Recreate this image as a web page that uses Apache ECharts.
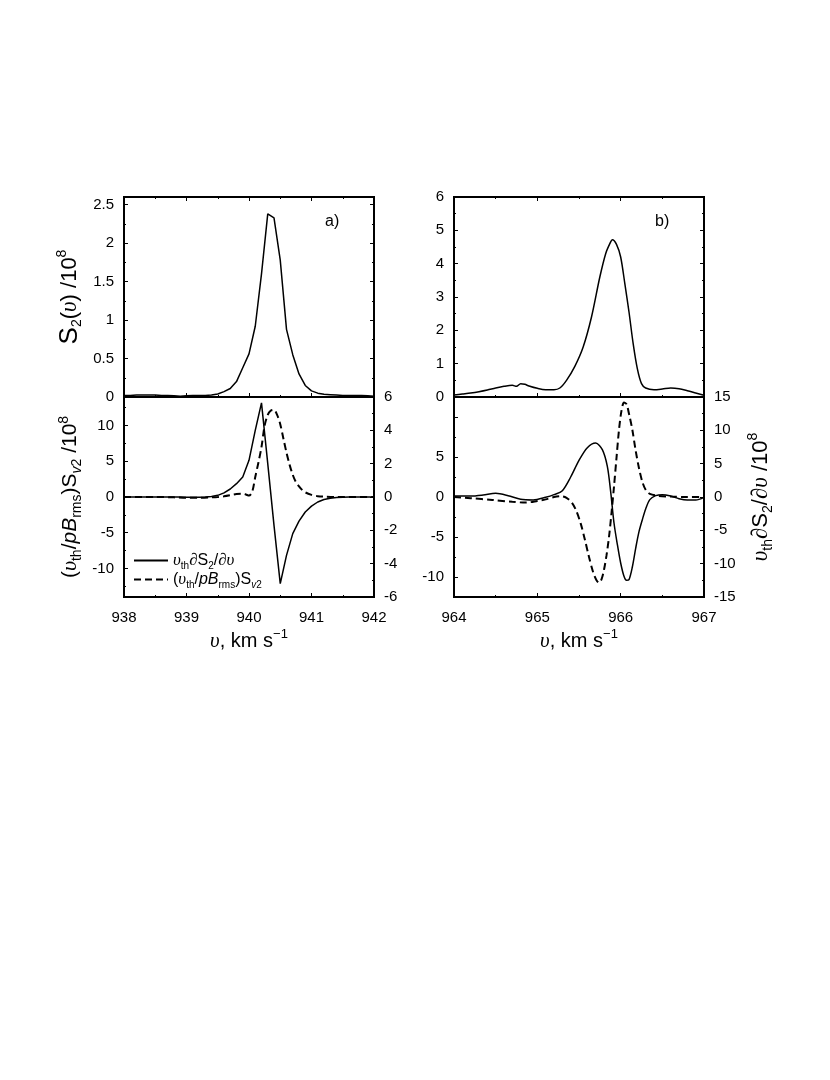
<!DOCTYPE html>
<html><head><meta charset="utf-8">
<script src="https://cdn.jsdelivr.net/npm/echarts@6/dist/echarts.min.js"></script>
<style>html,body{margin:0;padding:0;background:#fff}#c{width:830px;height:1080px}</style>
</head><body><div id="c"></div>
<script>
// ---------- data: panel a ----------
const vA = [938.0,938.1,938.2,938.3,938.4,938.5,938.6,938.7,938.8,938.9,939.0,939.1,939.2,939.3,939.4,939.5,939.6,939.7,939.8,939.9,940.0,940.1,940.2,940.3,940.4,940.5,940.6,940.7,940.8,940.9,941.0,941.1,941.2,941.3,941.4,941.5,941.6,941.7,941.8,941.9,942.0];
const s2A = [0.02,0.02,0.025,0.025,0.025,0.025,0.02,0.02,0.015,0.01,0.015,0.02,0.02,0.02,0.025,0.04,0.07,0.11,0.2,0.38,0.56,0.92,1.6,2.38,2.33,1.78,0.88,0.55,0.3,0.15,0.08,0.05,0.035,0.03,0.025,0.02,0.02,0.02,0.02,0.015,0.01];
const dSA = [0,0,0,0,0,0,0,0,0,0,-0.02,-0.02,-0.02,0,0.03,0.1,0.25,0.48,0.8,1.2,2.2,4.0,5.65,2.0,-1.7,-5.2,-3.5,-2.2,-1.45,-0.9,-0.55,-0.3,-0.15,-0.07,-0.03,-0.01,0,0,0,0,0];
const vAd = [938.0,938.5,938.8,939.0,939.2,939.4,939.5,939.6,939.7,939.8,939.9,939.95,940.0,940.05,940.1,940.15,940.2,940.25,940.3,940.35,940.4,940.45,940.5,940.55,940.6,940.65,940.7,940.75,940.8,940.85,940.9,941.0,941.1,941.2,941.4,942.0];
const svA = [0,0,-0.05,-0.1,-0.1,-0.05,0,0.1,0.25,0.42,0.45,0.35,0.2,0.7,2.8,4.8,7.0,10.0,11.5,12.1,12.2,11.5,10.2,8.2,6.2,4.5,3.1,2.1,1.5,1.0,0.65,0.3,0.12,0.05,0,0];
// ---------- data: panel b ----------
const vB = [964.0,964.1,964.2,964.3,964.4,964.5,964.6,964.7,964.75,964.8,964.85,964.9,965.0,965.1,965.2,965.27,965.35,965.45,965.55,965.65,965.75,965.82,965.87,965.9,965.95,966.0,966.05,966.1,966.15,966.2,966.25,966.3,966.4,966.5,966.6,966.7,966.8,966.9,967.0];
const s2B = [0.06,0.09,0.12,0.16,0.21,0.27,0.32,0.35,0.32,0.4,0.38,0.33,0.26,0.22,0.22,0.27,0.5,0.92,1.5,2.4,3.6,4.3,4.6,4.72,4.58,4.2,3.4,2.55,1.6,0.85,0.4,0.27,0.22,0.24,0.27,0.25,0.19,0.12,0.05];
const vBs = [964.0,964.2,964.35,964.5,964.65,964.8,964.95,965.1,965.2,965.3,965.4,965.5,965.6,965.7,965.78,965.84,965.88,965.92,965.96,966.0,966.04,966.07,966.1,966.14,966.18,966.22,966.26,966.3,966.35,966.42,966.5,966.6,966.7,966.8,966.9,967.0];
const dSB = [0.15,0.15,0.3,0.55,0.2,-0.35,-0.45,-0.05,0.35,0.95,3.0,5.5,7.4,8.1,7.1,4.6,0.8,-3.9,-7.1,-9.9,-11.9,-12.5,-12.4,-10.5,-7.7,-5.2,-3.4,-1.8,-0.4,0.2,0.35,0.15,-0.25,-0.45,-0.45,-0.05];
const vBd = [964.0,964.2,964.46,964.7,964.86,965.0,965.1,965.2,965.28,965.35,965.42,965.47,965.52,965.57,965.62,965.67,965.71,965.74,965.77,965.8,965.83,965.86,965.89,965.92,965.95,965.98,966.01,966.04,966.07,966.1,966.14,966.18,966.22,966.26,966.3,966.35,966.45,966.6,966.8,967.0];
const svB = [0.0,-0.15,-0.37,-0.6,-0.7,-0.5,-0.3,0.0,0.1,-0.1,-0.8,-1.8,-3.3,-5.3,-7.5,-9.4,-10.4,-10.7,-10.3,-9.1,-7.3,-5.0,-2.0,1.3,4.9,8.4,10.8,11.8,11.6,10.4,8.4,5.8,3.6,1.9,0.9,0.4,0.15,0.05,0.0,0.0];
// ---------- ticks ----------
const xTicksA = [938,939,940,941,942], xMinorA = [938.5,939.5,940.5,941.5];
const xTicksB = [964,965,966,967], xMinorB = [964.5,965.5,966.5];
const yTicksUA = [0,0.5,1,1.5,2,2.5], yMinorUA = [0.25,0.75,1.25,1.75,2.25];
const yTicksLAl = [-10,-5,0,5,10], yMinorLAl = [-12.5,-7.5,-2.5,2.5,7.5,12.5];
const yTicksLAr = [-6,-4,-2,0,2,4,6], yMinorLAr = [-5,-3,-1,1,3,5];
const yTicksUB = [0,1,2,3,4,5,6], yMinorUB = [0.5,1.5,2.5,3.5,4.5,5.5];
const yTicksLBl = [-10,-5,0,5,10], yLabelsLBl = [-10,-5,0,5], yMinorLBl = [-7.5,-2.5,2.5,7.5];
const yTicksLBr = [-15,-10,-5,0,5,10,15], yMinorLBr = [-12.5,-7.5,-2.5,2.5,7.5,12.5];

const SANS = 'Liberation Sans', SERIF = 'Liberation Serif';
function rich(size) {
  const lh = Math.round(size * 1.3), ss = Math.round(size * 0.65);
  return {
    n: {fontFamily: SANS, fontSize: size, lineHeight: lh, color: '#000'},
    i: {fontFamily: SANS, fontStyle: 'italic', fontSize: size, lineHeight: lh, color: '#000'},
    u: {fontFamily: SERIF, fontStyle: 'italic', fontSize: Math.round(size * 1.05), lineHeight: lh, color: '#000'},
    sub: {fontFamily: SANS, fontSize: ss, lineHeight: ss, verticalAlign: 'bottom', color: '#000'},
    subi: {fontFamily: SANS, fontStyle: 'italic', fontSize: ss, lineHeight: ss, verticalAlign: 'bottom', color: '#000'},
    sup: {fontFamily: SANS, fontSize: ss, lineHeight: ss, verticalAlign: 'top', color: '#000'}
  };
}
const tickFont = {fontFamily: SANS, fontSize: 15, color: '#000'};

const xAxes = [], yAxes = [];
function mainAxis(grid, pos, min, max, ticks, labels, extra, margin) {
  return Object.assign({
    type: 'value', gridIndex: grid, position: pos, min: min, max: max,
    axisLine: {show: false, onZero: false}, splitLine: {show: false},
    axisTick: {show: true, inside: true, length: 4, customValues: ticks, lineStyle: {color: '#000', width: 1}},
    axisLabel: labels ? Object.assign({show: true, customValues: labels, margin: margin || 10}, tickFont) : {show: false}
  }, extra || {});
}
function minorAxis(grid, pos, min, max, ticks) {
  return {type: 'value', gridIndex: grid, position: pos, min: min, max: max,
    axisLine: {show: false, onZero: false}, splitLine: {show: false}, axisLabel: {show: false},
    axisTick: {show: true, inside: true, length: 2, customValues: ticks, lineStyle: {color: '#000', width: 1}}};
}
function add(list, a) { list.push(a); return list.length - 1; }

const xName = {name: '{u|υ}{n|, km s}{sup|−1}', nameLocation: 'middle', nameGap: 31, nameTextStyle: {rich: rich(20)}};

// grid 0: upper a
const xU_A = add(xAxes, mainAxis(0, 'bottom', 938, 942, xTicksA, null));
add(xAxes, minorAxis(0, 'bottom', 938, 942, xMinorA));
add(xAxes, mainAxis(0, 'top', 938, 942, xTicksA, null));
add(xAxes, minorAxis(0, 'top', 938, 942, xMinorA));
const yU_A = add(yAxes, mainAxis(0, 'left', 0, 2.6, yTicksUA, yTicksUA, {
  name: '{S|S}{sub|2}{n|(}{u|υ}{n|) /10}{sup|8}', nameLocation: 'middle', nameRotate: 90, nameGap: 40,
  nameTextStyle: {rich: Object.assign(rich(22), {S: {fontFamily: SANS, fontSize: 26, lineHeight: 29, color: '#000'}})}}));
add(yAxes, minorAxis(0, 'left', 0, 2.6, yMinorUA));
add(yAxes, mainAxis(0, 'right', 0, 2.6, yTicksUA, null));
add(yAxes, minorAxis(0, 'right', 0, 2.6, yMinorUA));
// grid 1: lower a
const xL_A = add(xAxes, mainAxis(1, 'bottom', 938, 942, xTicksA, xTicksA, xName, 13));
add(xAxes, minorAxis(1, 'bottom', 938, 942, xMinorA));
const yL_Al = add(yAxes, mainAxis(1, 'left', -14, 14, yTicksLAl, yTicksLAl, {
  name: '{n|(}{u|υ}{sub|th}{n|/}{i|pB}{sub|rms}{n|)S}{subi|v}{sub|2}{n| /10}{sup|8}', nameLocation: 'middle', nameRotate: 90, nameGap: 40, nameTextStyle: {rich: rich(21)}}));
add(yAxes, minorAxis(1, 'left', -14, 14, yMinorLAl));
const yL_Ar = add(yAxes, mainAxis(1, 'right', -6, 6, yTicksLAr, yTicksLAr));
add(yAxes, minorAxis(1, 'right', -6, 6, yMinorLAr));
// grid 2: upper b
const xU_B = add(xAxes, mainAxis(2, 'bottom', 964, 967, xTicksB, null));
add(xAxes, minorAxis(2, 'bottom', 964, 967, xMinorB));
add(xAxes, mainAxis(2, 'top', 964, 967, xTicksB, null));
add(xAxes, minorAxis(2, 'top', 964, 967, xMinorB));
const yU_B = add(yAxes, mainAxis(2, 'left', 0, 6, yTicksUB, yTicksUB));
add(yAxes, minorAxis(2, 'left', 0, 6, yMinorUB));
add(yAxes, mainAxis(2, 'right', 0, 6, yTicksUB, null));
add(yAxes, minorAxis(2, 'right', 0, 6, yMinorUB));
// grid 3: lower b
const xL_B = add(xAxes, mainAxis(3, 'bottom', 964, 967, xTicksB, xTicksB, xName, 13));
add(xAxes, minorAxis(3, 'bottom', 964, 967, xMinorB));
const yL_Bl = add(yAxes, mainAxis(3, 'left', -12.5, 12.5, yTicksLBl, yLabelsLBl));
add(yAxes, minorAxis(3, 'left', -12.5, 12.5, yMinorLBl));
const yL_Br = add(yAxes, mainAxis(3, 'right', -15, 15, yTicksLBr, yTicksLBr, {
  name: '{u|υ}{sub|th}{u|∂}{n|S}{sub|2}{n|/}{u|∂υ}{n| /10}{sup|8}', nameLocation: 'middle', nameRotate: 90, nameGap: 42, nameTextStyle: {rich: rich(22)}}));
add(yAxes, minorAxis(3, 'right', -15, 15, yMinorLBr));

const zip = (xs, ys) => xs.map((x, i) => [x, ys[i]]);
const NAME_S = 'deriv', NAME_D = 'stokesV';
const solid = {color: '#000', width: 1.5};
const dashed = {color: '#000', width: 2, type: [7, 4]};
function line(name, xi, yi, data, ls, smooth) {
  return {type: 'line', name: name, xAxisIndex: xi, yAxisIndex: yi, data: data, symbol: 'none', showSymbol: false,
    lineStyle: ls, itemStyle: {color: '#000'}, smooth: smooth, z: 5, silent: true};
}

const gridBox = {show: true, borderColor: '#000', borderWidth: 2, backgroundColor: 'transparent'};
const option = {
  animation: false,
  backgroundColor: '#fff',
  grid: [
    Object.assign({left: 124, top: 197, width: 250, height: 200}, gridBox),
    Object.assign({left: 124, top: 397, width: 250, height: 200}, gridBox),
    Object.assign({left: 454, top: 197, width: 250, height: 200}, gridBox),
    Object.assign({left: 454, top: 397, width: 250, height: 200}, gridBox)
  ],
  xAxis: xAxes,
  yAxis: yAxes,
  legend: {
    data: [NAME_S, NAME_D], orient: 'vertical', left: 128, top: 547, itemWidth: 34, itemHeight: 14, itemGap: 0,
    selectedMode: false,
    itemStyle: {opacity: 0, borderWidth: 0},
    textStyle: {color: '#000', fontSize: 16, rich: rich(16)},
    formatter: function (n) {
      return n === NAME_S
        ? '{u|υ}{sub|th}{u|∂}{n|S}{sub|2}{n|/}{u|∂υ}'
        : '{n|(}{u|υ}{sub|th}{n|/}{i|pB}{sub|rms}{n|)S}{subi|v}{sub|2}';
    }
  },
  graphic: [
    {type: 'text', left: 325, top: 214, style: {text: 'a)', font: '16px "Liberation Sans"', fill: '#000'}},
    {type: 'text', left: 655, top: 214, style: {text: 'b)', font: '16px "Liberation Sans"', fill: '#000'}}
  ],
  series: [
    line('s2a', xU_A, yU_A, zip(vA, s2A), solid, false),
    line(NAME_S, xL_A, yL_Ar, zip(vA, dSA), solid, false),
    line(NAME_D, xL_A, yL_Al, zip(vAd, svA), dashed, 0.3),
    line('s2b', xU_B, yU_B, zip(vB, s2B), solid, 0.3),
    line('derivB', xL_B, yL_Br, zip(vBs, dSB), solid, 0.3),
    line('stokesB', xL_B, yL_Bl, zip(vBd, svB), dashed, 0.3)
  ]
};
const chart = echarts.init(document.getElementById('c'), null, {renderer: 'canvas'});
chart.setOption(option);
</script>
</body></html>
